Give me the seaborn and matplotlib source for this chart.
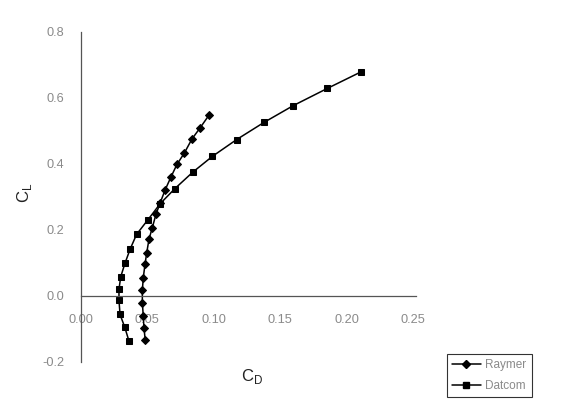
import matplotlib
matplotlib.use("Agg")
import matplotlib.pyplot as plt
import seaborn as sns
import pandas as pd
from matplotlib.lines import Line2D

raymer_cd = [0.0484, 0.0474, 0.0469, 0.0462, 0.0462, 0.0469, 0.0482, 0.0495, 0.0512, 0.0537,
             0.0565, 0.0597, 0.0633, 0.0678, 0.0723, 0.0778, 0.0836, 0.0896, 0.0964]
raymer_cl = [-0.134, -0.096, -0.061, -0.020, 0.017, 0.055, 0.096, 0.131, 0.172, 0.207,
             0.248, 0.283, 0.321, 0.361, 0.399, 0.433, 0.476, 0.509, 0.548]
datcom_cd = [0.0361, 0.0329, 0.0294, 0.0286, 0.0286, 0.0299, 0.0331, 0.0371, 0.0419, 0.0502,
             0.0597, 0.0706, 0.0841, 0.0989, 0.1172, 0.1378, 0.1599, 0.1855, 0.2108]
datcom_cl = [-0.136, -0.094, -0.056, -0.013, 0.020, 0.058, 0.099, 0.143, 0.187, 0.230,
             0.280, 0.325, 0.375, 0.423, 0.474, 0.526, 0.577, 0.629, 0.679]
series_names = ["Raymer", "Datcom"]
x_ticks = [0.00, 0.05, 0.10, 0.15, 0.20, 0.25]
y_ticks = [-0.2, 0.0, 0.2, 0.4, 0.6, 0.8]

df = pd.concat([
    pd.DataFrame({"CD": raymer_cd, "CL": raymer_cl, "series": series_names[0]}),
    pd.DataFrame({"CD": datcom_cd, "CL": datcom_cl, "series": series_names[1]}),
], ignore_index=True)

sns.set_style("white")
plt.rcParams["font.family"] = ["Liberation Sans", "DejaVu Sans"]

fig = plt.figure(figsize=(5.62, 4.09), dpi=100)
ax = fig.add_axes([81 / 562, 1 - 362 / 409, 335 / 562, 330 / 409])

sns.lineplot(data=df, x="CD", y="CL", hue="series", style="series",
             markers={"Raymer": "D", "Datcom": "s"}, dashes=False,
             palette={"Raymer": "black", "Datcom": "black"},
             sort=False, estimator=None, ax=ax, linewidth=1.1,
             markersize=4.5, markeredgecolor="black", legend=False)

ax.set_xlim(0, 0.2523)
ax.set_ylim(-0.2, 0.8)
ax.set_xticks(x_ticks)
ax.set_yticks(y_ticks)
ax.set_xticklabels([f"{v:.2f}" for v in x_ticks])
ax.set_yticklabels([f"{v:.1f}" for v in y_ticks])

for s in ["top", "right"]:
    ax.spines[s].set_visible(False)
ax.spines["bottom"].set_position(("data", 0))
ax.spines["left"].set_position(("data", 0))
for s in ["bottom", "left"]:
    ax.spines[s].set_color("#555555")
    ax.spines[s].set_linewidth(0.9)

ax.tick_params(axis="both", length=0, labelsize=9.2, labelcolor="#8a8a8a")
ax.tick_params(axis="x", pad=13)
ax.tick_params(axis="y", pad=12)
ax.set_xlabel("")
ax.set_ylabel("")

fig.text(25 / 562, 1 - 193 / 409, r"C$_\mathregular{L}$", rotation=90,
         ha="center", va="center", fontsize=12, color="#222222")
fig.text(252 / 562, 1 - 376 / 409, r"C$_\mathregular{D}$",
         ha="center", va="center", fontsize=12, color="#222222")

handles = [
    Line2D([], [], color="black", marker="D", markersize=4, linewidth=1.1),
    Line2D([], [], color="black", marker="s", markersize=4, linewidth=1.1),
]
leg = fig.legend(handles, series_names, loc="upper left",
                 bbox_to_anchor=(447 / 562, 1 - 354 / 409),
                 fontsize=8.5, frameon=True, fancybox=False, handlelength=2.4,
                 borderpad=0.45, labelspacing=0.75, handletextpad=0.4,
                 borderaxespad=0)
leg.get_frame().set_edgecolor("black")
leg.get_frame().set_linewidth(0.8)
for t in leg.get_texts():
    t.set_color("#8a8a8a")

fig.savefig("out.png", dpi=100)
